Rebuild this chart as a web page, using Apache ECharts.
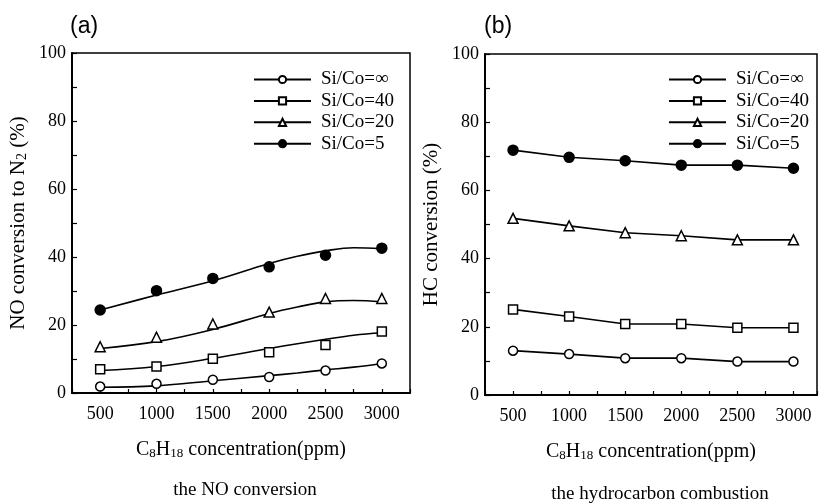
<!DOCTYPE html>
<html>
<head>
<meta charset="utf-8">
<script src="https://cdn.jsdelivr.net/npm/echarts@6/dist/echarts.min.js"></script>
<style>html,body{margin:0;padding:0;background:#fff}#c{width:820px;height:503px}</style>
</head>
<body>
<div id="c"></div>
<script>
// ---- data ----
const xValues = [500, 1000, 1500, 2000, 2500, 3000];
const seriesNames = ['Si/Co=∞', 'Si/Co=40', 'Si/Co=20', 'Si/Co=5'];
// panel (a): measured NO conversion points
const noInf = [1.9, 2.7, 3.9, 4.7, 6.6, 8.7];
const no40 = [7.0, 7.8, 10.1, 12.0, 14.1, 18.1];
const no20 = [13.6, 16.4, 20.3, 23.8, 27.8, 27.8];
const no5 = [24.4, 30.1, 33.7, 37.1, 40.5, 42.6];
// panel (a): fitted curves
const curveX = [500, 1000, 1500, 2000, 2250, 2500, 2750, 3000];
const curveInf = [1.7, 2.1, 3.6, 5.1, 5.9, 6.8, 7.6, 8.7];
const curve40 = [6.6, 7.8, 10.2, 13.1, 14.5, 15.8, 17.0, 17.7];
const curve20 = [13.1, 15.1, 18.7, 23.4, 25.3, 26.8, 27.2, 26.8];
const curve5 = [24.4, 28.8, 33.0, 38.1, 40.2, 41.8, 42.7, 42.4];
// panel (b): HC conversion
const hcInf = [13.0, 12.0, 10.8, 10.8, 9.8, 9.8];
const hc40 = [25.1, 23.0, 20.8, 20.8, 19.7, 19.7];
const hc20 = [51.8, 49.6, 47.6, 46.7, 45.5, 45.5];
const hc5 = [71.8, 69.7, 68.7, 67.4, 67.4, 66.5];
const xTickLabels = ['500', '1000', '1500', '2000', '2500', '3000'];
const yTickLabels = ['0', '20', '40', '60', '80', '100'];

// ---- styles ----
const SERIF = '"Liberation Serif", "Times New Roman", serif';
const SANS = '"Liberation Sans", Arial, sans-serif';
const symbols = ['circle', 'rect', 'triangle', 'circle'];
const fills = ['#fff', '#fff', '#fff', '#000'];
const sizes = [9, 9, 10, 10];

function zip(xs, ys) { return xs.map((x, i) => [x, ys[i]]); }

function xAxis(gi, max) {
  return {
    type: 'value', gridIndex: gi, min: 250, max: max, interval: 250,
    axisLine: { show: true, lineStyle: { color: '#000', width: 2 } },
    axisTick: { show: true, inside: true, length: 4, lineStyle: { color: '#000', width: 1.2 } },
    axisLabel: {
      margin: 12, color: '#000', fontFamily: SERIF, fontSize: 18,
      formatter: v => { const s = String(v); return xTickLabels.indexOf(s) >= 0 ? s : ''; }
    },
    splitLine: { show: false },
    name: '{t|C}{s|8}{t|H}{s|18}{t| concentration(ppm)}',
    nameLocation: 'middle', nameGap: 47,
    nameTextStyle: {
      color: '#000', fontFamily: SERIF, fontSize: 20,
      rich: {
        t: { fontFamily: SERIF, fontSize: 20, lineHeight: 20, verticalAlign: 'bottom', color: '#000' },
        s: { fontFamily: SERIF, fontSize: 13, lineHeight: 13, verticalAlign: 'bottom', color: '#000' }
      }
    }
  };
}
function yAxis(gi, name, gap) {
  return {
    type: 'value', gridIndex: gi, min: 0, max: 100, interval: 10,
    axisLine: { show: true, lineStyle: { color: '#000', width: 2 } },
    axisTick: { show: true, inside: true, length: 5, lineStyle: { color: '#000', width: 1.2 } },
    axisLabel: {
      margin: 6, color: '#000', fontFamily: SERIF, fontSize: 18,
      formatter: v => { const s = String(v); return yTickLabels.indexOf(s) >= 0 ? s : ''; }
    },
    splitLine: { show: false },
    name: name, nameLocation: 'middle', nameGap: gap, nameRotate: 90,
    nameTextStyle: {
      color: '#000', fontFamily: SERIF, fontSize: 21,
      rich: {
        t: { fontFamily: SERIF, fontSize: 21, lineHeight: 21, verticalAlign: 'bottom', color: '#000' },
        s: { fontFamily: SERIF, fontSize: 14, lineHeight: 14, verticalAlign: 'bottom', color: '#000' }
      }
    }
  };
}

const series = [];
// panel (a) curves (legend entries)
[curveInf, curve40, curve20, curve5].forEach((c, i) => {
  series.push({
    name: seriesNames[i], type: 'line', xAxisIndex: 0, yAxisIndex: 0,
    data: zip(curveX, c), smooth: 0.4, showSymbol: false,
    symbol: symbols[i], symbolSize: sizes[i],
    itemStyle: { color: fills[i], borderColor: '#000', borderWidth: 1.5 },
    lineStyle: { color: '#000', width: 1.6 }, z: 2, silent: true
  });
});
// panel (a) measured points
[noInf, no40, no20, no5].forEach((p, i) => {
  series.push({
    name: 'pa' + i, type: 'scatter', xAxisIndex: 0, yAxisIndex: 0,
    data: zip(xValues, p), symbol: symbols[i], symbolSize: sizes[i],
    itemStyle: { color: fills[i], borderColor: '#000', borderWidth: 1.5, opacity: 1 }, z: 3, silent: true
  });
});
// panel (b)
[hcInf, hc40, hc20, hc5].forEach((p, i) => {
  series.push({
    name: seriesNames[i], type: 'line', xAxisIndex: 1, yAxisIndex: 1,
    data: zip(xValues, p), symbol: symbols[i], symbolSize: sizes[i], showAllSymbol: true,
    itemStyle: { color: fills[i], borderColor: '#000', borderWidth: 1.5 },
    lineStyle: { color: '#000', width: 1.6 }, z: 3, silent: true
  });
});

function legend(left) {
  return {
    data: seriesNames, left: left, top: 70, orient: 'vertical', padding: 0,
    itemWidth: 57, itemHeight: 9, itemGap: 2.4, selectedMode: false,
    textStyle: { color: '#000', fontFamily: SERIF, fontSize: 19, padding: [0, 0, 0, 5] }
  };
}

const chart = echarts.init(document.getElementById('c'), null, { renderer: 'canvas' });
chart.setOption({
  animation: false,
  backgroundColor: '#fff',
  grid: [
    { left: 72, top: 53, width: 338, height: 340, show: true, borderColor: '#000', borderWidth: 1.5, backgroundColor: 'transparent' },
    { left: 485, top: 54, width: 334, height: 341, show: true, borderColor: '#000', borderWidth: 1.5, backgroundColor: 'transparent' }
  ],
  xAxis: [xAxis(0, 3250), xAxis(1, 3210)],
  yAxis: [
    yAxis(0, '{t|NO conversion to N}{s|2}{t| (%)}', 43),
    yAxis(1, '{t|HC conversion (%)}', 43)
  ],
  legend: [legend(253), legend(668)],
  series: series,
  graphic: [
    { type: 'text', left: 70, top: 15, style: { text: '(a)', font: '23px ' + SANS, fill: '#000' } },
    { type: 'text', left: 484, top: 15, style: { text: '(b)', font: '23px ' + SANS, fill: '#000' } },
    { type: 'text', x: 245, y: 490, style: { text: 'the NO conversion', font: '19px ' + SERIF, fill: '#000', textAlign: 'center', textVerticalAlign: 'middle' } },
    { type: 'text', x: 660, y: 494, style: { text: 'the hydrocarbon combustion', font: '19px ' + SERIF, fill: '#000', textAlign: 'center', textVerticalAlign: 'middle' } }
  ]
});
</script>
</body>
</html>
